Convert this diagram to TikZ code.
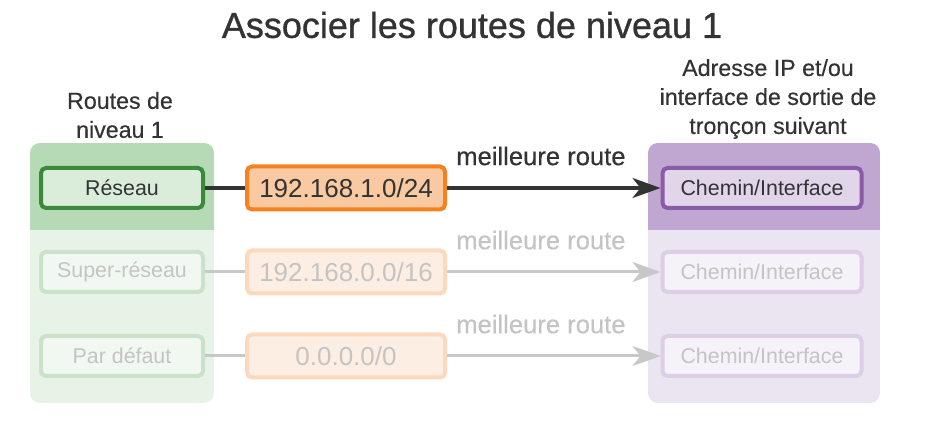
\documentclass[tikz,border=0pt]{standalone}
\usepackage{fontspec}
\setmainfont{Liberation Sans}
\newfontfamily\semibold[FakeBold=0.9]{Liberation Sans}
\newfontfamily\medium[FakeBold=0.4]{Liberation Sans}
\usetikzlibrary{arrows.meta, positioning}

\definecolor{txtdark}{HTML}{333333}
\definecolor{txtfade}{HTML}{C4C4C4}
\definecolor{greenband}{HTML}{B6DAB6}
\definecolor{greenpanel}{HTML}{E8F3E8}
\definecolor{greenedge}{HTML}{3B8A3B}
\definecolor{greenfill}{HTML}{DAEDDA}
\definecolor{greenfadeedge}{HTML}{C9E2C9}
\definecolor{greenfadefill}{HTML}{F1F8F1}
\definecolor{orangeedge}{HTML}{F5821F}
\definecolor{orangefill}{HTML}{F9CAA1}
\definecolor{orangefadeedge}{HTML}{FCD9BD}
\definecolor{orangefadefill}{HTML}{FDEEE3}
\definecolor{purpleband}{HTML}{C0A7D1}
\definecolor{purplepanel}{HTML}{EBE4F1}
\definecolor{purpleedge}{HTML}{8A5BA8}
\definecolor{purplefill}{HTML}{E1D5EA}
\definecolor{purplefadeedge}{HTML}{DDCEE8}
\definecolor{purplefadefill}{HTML}{F6F2F9}
\definecolor{linkfadecol}{HTML}{C8C8C8}

\begin{document}
\begin{tikzpicture}[
    x=0.5pt, y=-0.5pt,
    % Box styles
    box/.style={
        rounded corners=2.5pt,
        line width=2pt,
        minimum height=20pt,
        inner sep=0pt,
        font=\fontsize{10.7}{12}\selectfont
    },
    routebox/.style={box, minimum width=81pt, draw=greenedge, fill=greenfill, text=txtdark},
    routefade/.style={box, minimum width=81pt, draw=greenfadeedge, fill=greenfadefill, text=txtfade},
    prefixbox/.style={box, minimum width=99pt, minimum height=21.5pt, draw=orangeedge, fill=orangefill, text=txtdark, font=\fontsize{13}{15}\selectfont},
    prefixfade/.style={prefixbox, draw=orangefadeedge, fill=orangefadefill, text=txtfade},
    hopbox/.style={box, minimum width=99.5pt, draw=purpleedge, fill=purplefill, text=txtdark},
    hopfade/.style={hopbox, draw=purplefadeedge, fill=purplefadefill, text=txtfade},
    % Connector styles
    link/.style={line width=1.6pt, draw=txtdark},
    linkfade/.style={line width=1.5pt, draw=linkfadecol},
    tip/.style={-{Stealth[length=14pt, width=10pt, inset=4pt]}},
    lbl/.style={inner sep=0pt, font=\medium\fontsize{12.8}{15}\selectfont, text=txtdark},
    lblfade/.style={lbl, text=txtfade},
    header/.style={align=center, text=txtdark, font=\medium\fontsize{11.6}{14.5}\selectfont}
]
\useasboundingbox (0,0) rectangle (934,438);

% Panels
\begin{scope}
\clip[rounded corners=5pt] (30,143) rectangle (214,403);
\fill[greenpanel] (30,143) rectangle (214,403);
\fill[greenband] (30,143) rectangle (214,230);
\end{scope}
\begin{scope}
\clip[rounded corners=5pt] (648,143) rectangle (880,403);
\fill[purplepanel] (648,143) rectangle (880,403);
\fill[purpleband] (648,143) rectangle (880,230);
\end{scope}

% Titles
\node (title) at (472,25) [text=txtdark, font=\semibold\fontsize{18}{22}\selectfont] {Associer les routes de niveau 1};
\node (lefthead) at (120,115) [header] {Routes de\\niveau 1};
\node (righthead) at (768,99) [header] {Adresse IP et/ou\\interface de sortie de\\tronçon suivant};

% Row 1
\node (reseau) at (122,188) [routebox] {Réseau};
\node (pfx1) at (346,188) [prefixbox] {192.168.1.0/24};
\node (hop1) at (762,188) [hopbox] {Chemin/Interface};

% Row 2
\node (superreseau) at (122,272) [routefade] {Super-réseau};
\node (pfx2) at (346,272) [prefixfade] {192.168.0.0/16};
\node (hop2) at (762,272) [hopfade] {Chemin/Interface};

% Row 3
\node (defaut) at (122,356) [routefade] {Par défaut};
\node (pfx3) at (346,356) [prefixfade] {0.0.0.0/0};
\node (hop3) at (762,356) [hopfade] {Chemin/Interface};

% Connectors
\draw[link] (reseau) -- (pfx1);
\draw[link, tip] (pfx1) -- node[lbl, pos=0.44, above=10.5pt] {meilleure route} (hop1);
\draw[linkfade] (superreseau) -- (pfx2);
\draw[linkfade, tip] (pfx2) -- node[lblfade, pos=0.44, above=10.5pt] {meilleure route} (hop2);
\draw[linkfade] (defaut) -- (pfx3);
\draw[linkfade, tip] (pfx3) -- node[lblfade, pos=0.44, above=10.5pt] {meilleure route} (hop3);
\end{tikzpicture}
\end{document}
